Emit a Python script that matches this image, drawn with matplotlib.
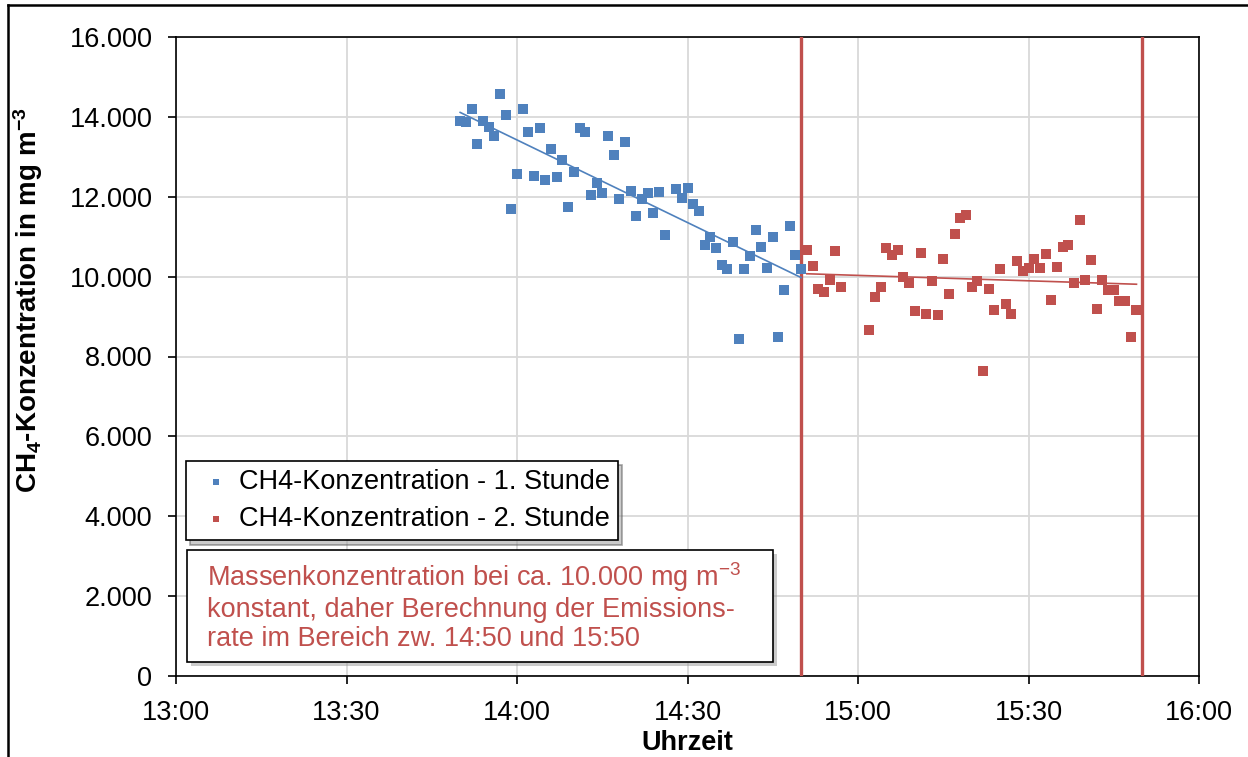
#!/usr/bin/env python3

import matplotlib
matplotlib.use("Agg")
import matplotlib.pyplot as plt
import matplotlib.dates as mdates
import matplotlib.patches as mpatches
import matplotlib.ticker as mticker
import pandas as pd
import numpy as np

# CH4 readings, one value per minute (nan = no reading)
blue_start = "2000-01-01 13:50"
blue_vals = [13900, 13880, 14190, 13330, 13890, 13750, 13530, 14580, 14050, 11700,
             12560, 14200, 13610, 12530, 13730, 12430, 13200, 12490, 12930, 11740,
             12610, 13720, 13610, 12040, 12350, 12100, 13530, 13050, 11950, 13370,
             12140, 11520, 11940, 12090, 11590, 12120, 11040, np.nan, 12190, 11980,
             12220, 11830, 11650, 10780, 10980, 10720, 10300, 10200, 10860, 8430,
             10200, 10510, 11170, 10730, 10220, 10980, 8500, 9660, 11280, 10530,
             10190]

red_start = "2000-01-01 14:51"
red_vals = [10670, 10270, 9690, 9620, 9920, 10640, 9730, np.nan, np.nan, np.nan,
            np.nan, 8660, 9480, 9730, 10710, 10540, 10660, 10000, 9840, 9150,
            10600, 9070, 9900, 9050, 10430, 9560, 11060, 11460, 11540, 9750,
            9900, 7640, 9700, 9170, 10190, 9310, 9070, 10390, 10150, 10210,
            10450, 10220, 10570, 9420, 10230, 10730, 10790, 9850, 11420, 9910,
            10410, 9190, 9920, 9660, 9670, 9400, 9400, 8490, 9170]

labels = ["CH4-Konzentration - 1. Stunde", "CH4-Konzentration - 2. Stunde"]
window = ["2000-01-01 14:50", "2000-01-01 15:50"]
xlim = ["2000-01-01 13:00", "2000-01-01 16:00"]
note = ("Massenkonzentration bei ca. 10.000 mg m$^{-3}$\n"
        "konstant, daher Berechnung der Emissions-\n"
        "rate im Bereich zw. 14:50 und 15:50")

BLUE = "#4f81bd"
RED = "#c0504d"
FS = 19.5

plt.rcParams["font.family"] = ["Liberation Sans", "DejaVu Sans"]
plt.rcParams["mathtext.fontset"] = "custom"
plt.rcParams["mathtext.rm"] = "Liberation Sans"
plt.rcParams["mathtext.bf"] = "Liberation Sans:bold"
plt.rcParams["mathtext.default"] = "regular"
plt.rcParams["axes.unicode_minus"] = False


def series(start, vals):
    t = pd.date_range(start, periods=len(vals), freq="min")
    s = pd.Series(vals, index=t).dropna()
    return s


def trend(s):
    x = mdates.date2num(s.index.to_pydatetime())
    k, d = np.polyfit(x, s.values, 1)
    xs = np.array([x.min(), x.max()])
    return mdates.num2date(xs), k * xs + d


blue = series(blue_start, blue_vals)
red = series(red_start, red_vals)

fig = plt.figure(figsize=(12.48, 7.57), dpi=100)
ax = fig.add_axes([176 / 1248, 81 / 757, 1023 / 1248, 639 / 757])

ax.scatter(blue.index, blue.values, marker="s", s=62, color=BLUE, zorder=4,
           label=labels[0], linewidths=0)
ax.scatter(red.index, red.values, marker="s", s=62, color=RED, zorder=4,
           label=labels[1], linewidths=0)

tx, ty = trend(blue)
ax.plot(tx, ty, color=BLUE, lw=1.2, zorder=5)
tx, ty = trend(red)
ax.plot(tx, ty, color=RED, lw=1.2, zorder=5)

for w in window:
    ax.axvline(pd.Timestamp(w), color=RED, lw=2.4, zorder=3)

ax.set_xlim(pd.Timestamp(xlim[0]), pd.Timestamp(xlim[1]))
ax.set_ylim(0, 16000)
ax.xaxis.set_major_locator(mdates.MinuteLocator(byminute=[0, 30]))
ax.xaxis.set_major_formatter(mdates.DateFormatter("%H:%M"))
ax.yaxis.set_major_locator(mticker.MultipleLocator(2000))
ax.yaxis.set_major_formatter(mticker.FuncFormatter(lambda v, p: f"{v:,.0f}".replace(",", ".")))

ax.grid(True, color="#d9d9d9", lw=1.3, zorder=0)
ax.set_axisbelow(True)
for sp in ax.spines.values():
    sp.set_linewidth(1.2)
    sp.set_color("black")
ax.tick_params(axis="both", direction="out", length=6, width=1.2, labelsize=FS)
ax.tick_params(axis="y", pad=11)
ax.tick_params(axis="x", pad=11.5)

ax.set_xlabel("Uhrzeit", fontsize=FS, fontweight="bold", labelpad=3)
ax.set_ylabel(r"CH$_{\mathbf{4}}$-Konzentration in mg m$^{\mathbf{-3}}$",
              fontsize=20, fontweight="bold")
ax.yaxis.set_label_coords(-0.128, (676 - 300) / 639)

leg = ax.legend(loc="upper left", bbox_to_anchor=(0.0098, 0.336), fontsize=FS,
                frameon=True, fancybox=False, edgecolor="black", framealpha=1,
                borderpad=0.3, labelspacing=0.4, handlelength=1.6,
                handletextpad=0.05, markerscale=0.6, borderaxespad=0,
                shadow={"ox": 3, "oy": -3, "facecolor": "0.6", "alpha": 0.5})
leg.get_frame().set_linewidth(1.2)
leg.set_zorder(10)

# note box with shadow
x0, y0 = (187 - 176) / 1023, (676 - 662) / 639
bw, bh = (773 - 187) / 1023, (662 - 550) / 639
ax.add_patch(mpatches.Rectangle((x0 + 0.004, y0 - 0.007), bw, bh, transform=ax.transAxes,
                                facecolor="0.6", alpha=0.5, edgecolor="none", zorder=9))
ax.add_patch(mpatches.Rectangle((x0, y0), bw, bh, transform=ax.transAxes,
                                facecolor="white", edgecolor="black", lw=1.2, zorder=9))
ax.text(x0 + 20 / 1023, y0 + bh / 2, note, transform=ax.transAxes, color=RED,
        fontsize=FS, va="center", ha="left", linespacing=1.15, zorder=11)

# outer frame lines
fig.add_artist(plt.Line2D([8 / 1248, 1], [1 - 5 / 757, 1 - 5 / 757], color="black", lw=1.8))
fig.add_artist(plt.Line2D([8 / 1248, 8 / 1248], [0, 1 - 5 / 757], color="black", lw=1.8))

fig.savefig("out.png", dpi=100)
